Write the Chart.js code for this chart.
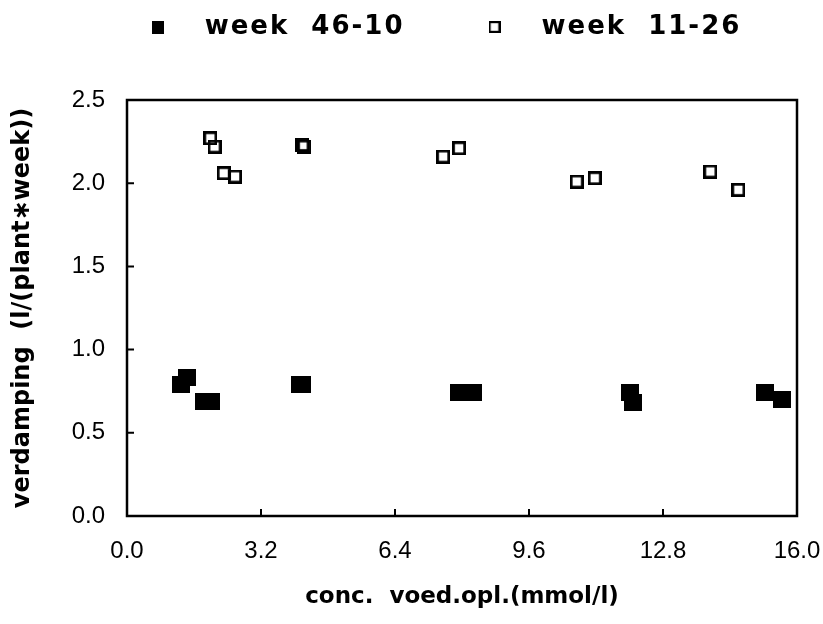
<!DOCTYPE html>
<html><head><meta charset="utf-8">
<script src="https://cdn.jsdelivr.net/npm/chart.js@4/dist/chart.umd.min.js"></script>
<style>html,body{margin:0;padding:0;background:#fff;}</style>
</head><body>
<canvas id="c" width="823" height="624"></canvas>
<script>
// ---- data ----
const seriesNames = ['week  46-10', 'week  11-26'];
const week4610X = [1.29, 1.43, 1.85, 2.00, 4.12, 4.17, 7.93, 8.26, 12.01, 12.08, 15.24, 15.63];
const week4610Y = [0.79, 0.83, 0.69, 0.69, 0.79, 0.79, 0.74, 0.74, 0.74, 0.68, 0.74, 0.70];
const week1126X = [1.99, 2.09, 2.31, 2.58, 4.19, 4.23, 7.55, 7.93, 10.74, 11.17, 13.93, 14.60];
const week1126Y = [2.27, 2.22, 2.06, 2.04, 2.23, 2.22, 2.16, 2.21, 2.01, 2.03, 2.07, 1.96];
const xTickValues = [0, 3.2, 6.4, 9.6, 12.8, 16.0];
const xTickLabels = ['0.0', '3.2', '6.4', '9.6', '12.8', '16.0'];
const yTickValues = [0, 0.5, 1.0, 1.5, 2.0, 2.5];
const yTickLabels = ['0.0', '0.5', '1.0', '1.5', '2.0', '2.5'];
const xTitle = 'conc.  voed.opl.(mmol/l)';
const yTitle = 'verdamping  (l/(plant\u2217week))';

// ---- marker images ----
function boxCanvas(w, h, filled, lw) {
  const c = document.createElement('canvas');
  c.width = w; c.height = h;
  const g = c.getContext('2d');
  if (filled) { g.fillStyle = '#000'; g.fillRect(0, 0, w, h); }
  else { g.strokeStyle = '#000'; g.lineWidth = lw; g.strokeRect(lw / 2, lw / 2, w - lw, h - lw); }
  return c;
}
const filledPt = boxCanvas(18, 17, true, 0);
const openPt = boxCanvas(14, 14, false, 2.8);
const filledLeg = boxCanvas(12, 13, true, 0);
const openLeg = boxCanvas(12, 12, false, 2.2);

const LEG_SPACING = '2px';
const LEG_HEIGHT = 100;
const LEG_DX = 34;
const LEG_TOP = -42;

const legendTweak = {
  id: 'legendTweak',
  beforeInit(chart) {
    const lg = chart.legend;
    const origFit = lg.fit.bind(lg);
    lg.fit = function () {
      const ctx = this.ctx; ctx.save(); ctx.letterSpacing = LEG_SPACING;
      origFit(); ctx.restore(); this.height = LEG_HEIGHT;
    };
    const origDraw = lg.draw.bind(lg);
    lg.draw = function (a) {
      const ctx = this.ctx; ctx.save(); ctx.letterSpacing = LEG_SPACING;
      origDraw(a); ctx.restore();
    };
  },
  afterLayout(chart) {
    const lg = chart.legend;
    lg.left += LEG_DX; lg.right += LEG_DX;
    lg.top = LEG_TOP; lg.bottom = LEG_TOP + lg.height;
  }
};

const frame = {
  id: 'frame',
  afterDatasetsDraw(chart) {
    const ctx = chart.ctx, a = chart.chartArea;
    const xs = chart.scales.x, ys = chart.scales.y;
    ctx.save();
    ctx.strokeStyle = '#000';
    ctx.lineWidth = 2.5;
    ctx.strokeRect(a.left, a.top, a.right - a.left, a.bottom - a.top);
    ctx.lineWidth = 2;
    ctx.beginPath();
    xTickValues.forEach(v => { const p = xs.getPixelForValue(v); ctx.moveTo(p, a.bottom); ctx.lineTo(p, a.bottom - 7); });
    yTickValues.forEach(v => { const p = ys.getPixelForValue(v); ctx.moveTo(a.left, p); ctx.lineTo(a.left + 7, p); });
    ctx.stroke();
    ctx.restore();
  }
};

const toPts = (xs, ys) => xs.map((x, i) => ({ x: x, y: ys[i] }));

new Chart(document.getElementById('c'), {
  type: 'scatter',
  data: {
    datasets: [
      { label: seriesNames[0], data: toPts(week4610X, week4610Y), pointStyle: filledPt, pointRadius: 8, backgroundColor: '#000', borderColor: '#000' },
      { label: seriesNames[1], data: toPts(week1126X, week1126Y), pointStyle: openPt, pointRadius: 8, backgroundColor: '#fff', borderColor: '#000' }
    ]
  },
  options: {
    responsive: false,
    animation: false,
    events: [],
    layout: { padding: { left: 0, right: 26, top: 0, bottom: 0 } },
    plugins: {
      tooltip: { enabled: false },
      legend: {
        display: true,
        position: 'top',
        fullSize: true,
        labels: {
          usePointStyle: true,
          pointStyleWidth: 68,
          padding: 56,
          color: '#000',
          font: { family: 'DejaVu Sans', size: 26, weight: 'bold' },
          generateLabels: () => [
            { text: seriesNames[0], pointStyle: filledLeg, fillStyle: '#000', strokeStyle: '#000', lineWidth: 0, hidden: false, datasetIndex: 0, fontColor: '#000' },
            { text: seriesNames[1], pointStyle: openLeg, fillStyle: '#fff', strokeStyle: '#000', lineWidth: 0, hidden: false, datasetIndex: 1, fontColor: '#000' }
          ]
        }
      }
    },
    scales: {
      x: {
        type: 'linear', min: 0, max: 16,
        afterBuildTicks: s => { s.ticks = xTickValues.map(v => ({ value: v })); },
        afterFit: s => { s.height = 108; s.paddingLeft = 0; s.paddingRight = 0; },
        ticks: { callback: (v, i) => xTickLabels[i], color: '#000', font: { family: 'Liberation Sans', size: 24 }, padding: 13, maxRotation: 0, autoSkip: false },
        grid: { display: false },
        border: { display: false },
        title: { display: true, text: xTitle, color: '#000', font: { family: 'DejaVu Sans', size: 23, weight: 'bold' }, padding: { top: 0, bottom: 13 } }
      },
      y: {
        type: 'linear', min: 0, max: 2.5,
        afterBuildTicks: s => { s.ticks = yTickValues.map(v => ({ value: v })); },
        afterFit: s => { s.width = 127; },
        ticks: { callback: (v, i) => yTickLabels[i], color: '#000', font: { family: 'Liberation Sans', size: 24 }, padding: 14, autoSkip: false },
        grid: { display: false },
        border: { display: false },
        title: { display: true, text: yTitle, color: '#000', font: { family: 'DejaVu Sans', size: 24, weight: 'bold' }, padding: { top: 8, bottom: 0 } }
      }
    }
  },
  plugins: [legendTweak, frame]
});
</script>
</body></html>
